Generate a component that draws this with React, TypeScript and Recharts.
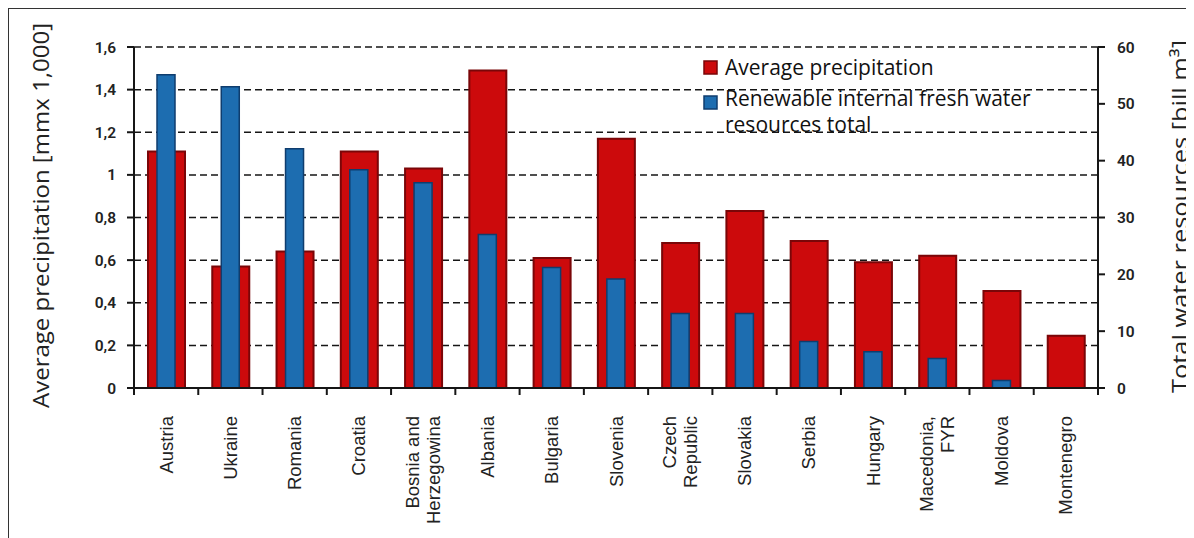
import React from 'react';
import { ComposedChart, Bar, XAxis, YAxis, CartesianGrid, Legend } from 'recharts';

// Countries (two-line names use "\n")
const countries = [
  'Austria',
  'Ukraine',
  'Romania',
  'Croatia',
  'Bosnia and\nHerzegowina',
  'Albania',
  'Bulgaria',
  'Slovenia',
  'Czech\nRepublic',
  'Slovakia',
  'Serbia',
  'Hungary',
  'Macedonia,\nFYR',
  'Moldova',
  'Montenegro',
];

// Average precipitation [mm x 1,000]
const precipitation = [1.11, 0.57, 0.64, 1.11, 1.03, 1.49, 0.61, 1.17, 0.68, 0.83, 0.69, 0.59, 0.62, 0.455, 0.245];

// Renewable internal fresh water resources total [bill m3]
const waterResources = [55.1, 53.0, 42.1, 38.4, 36.1, 27.0, 21.2, 19.2, 13.1, 13.1, 8.2, 6.4, 5.2, 1.3, 0];

const precipTicks = [0, 0.2, 0.4, 0.6, 0.8, 1, 1.2, 1.4, 1.6];
const waterTicks = [0, 10, 20, 30, 40, 50, 60];

const data = countries.map((country, i) => ({
  country,
  precipitation: precipitation[i],
  water: waterResources[i],
}));

const WIDTH = 1185;
const HEIGHT = 529;
const MARGIN_TOP = 38;
const LEFT_AXIS_W = 125;
const RIGHT_AXIS_W = 96;
const X_AXIS_H = 150;
const PLOT_BOTTOM = HEIGHT - X_AXIS_H;
const PLOT_W = WIDTH - LEFT_AXIS_W - RIGHT_AXIS_W;
const HALF_BAND = PLOT_W / countries.length / 2;

const RED = '#cc0a0c';
const RED_EDGE = '#7a0608';
const BLUE = '#1d6db0';
const BLUE_EDGE = '#0f3d6e';
const INK = '#161616';
const TITLE_FONT = "'Open Sans', sans-serif";

const fmtComma = (v: number) => String(v).replace('.', ',');

function CountryTick(props: any) {
  const { x, payload, index } = props;
  const lines = String(payload.value).split('\n');
  const gap = 21;
  const ty = PLOT_BOTTOM + 28;
  return (
    <g>
      <line x1={x - HALF_BAND} x2={x - HALF_BAND} y1={PLOT_BOTTOM} y2={PLOT_BOTTOM + 7} stroke={INK} strokeWidth={2} />
      {index === countries.length - 1 && (
        <line x1={x + HALF_BAND} x2={x + HALF_BAND} y1={PLOT_BOTTOM} y2={PLOT_BOTTOM + 7} stroke={INK} strokeWidth={2} />
      )}
      {lines.map((ln, i) => {
        const lx = x + (i - (lines.length - 1) / 2) * gap;
        return (
          <text
            key={i}
            x={lx}
            y={ty}
            transform={`rotate(-90 ${lx} ${ty})`}
            textAnchor="end"
            dominantBaseline="central"
            fontFamily="'Liberation Sans', Arial, sans-serif"
            fontSize={18.5}
            fill="#222"
          >
            {ln}
          </text>
        );
      })}
    </g>
  );
}

function AxisTitle({ cx, cy, length, text }: { cx: number; cy: number; length: number; text: string }) {
  return (
    <text
      x={cx}
      y={cy}
      transform={`rotate(-90 ${cx} ${cy})`}
      textAnchor="middle"
      dominantBaseline="central"
      fontFamily={TITLE_FONT}
      fontSize={22}
      fill="#222"
      textLength={length}
      lengthAdjust="spacingAndGlyphs"
    >
      {text}
    </text>
  );
}

function LegendBox() {
  const txt = { fontFamily: TITLE_FONT, fontSize: 21, fill: '#111' };
  return (
    <svg width={420} height={90} style={{ display: 'block', overflow: 'visible' }}>
      <rect x={1} y={1} width={13} height={13} fill={RED} stroke={RED_EDGE} strokeWidth={1.5} />
      <text x={22} y={15} {...txt}>
        Average precipitation
      </text>
      <rect x={1} y={36} width={13} height={13} fill={BLUE} stroke={BLUE_EDGE} strokeWidth={1.5} />
      <text x={22} y={46} {...txt}>
        Renewable internal fresh water
      </text>
      <text x={22} y={72} {...txt}>
        resources total
      </text>
    </svg>
  );
}

const tickStyle = { fill: '#222', fontSize: 15.5, fontWeight: 600, fontFamily: 'Roboto, sans-serif' };

export default function App() {
  return (
    <div
      style={{
        width: WIDTH,
        height: HEIGHT,
        borderTop: '1px solid #333',
        borderLeft: '1px solid #333',
        background: '#fff',
        position: 'relative',
        overflow: 'hidden',
      }}
    >
      <style>{'html,body{overflow:hidden}'}</style>
      <ComposedChart
        width={WIDTH}
        height={HEIGHT}
        data={data}
        margin={{ top: MARGIN_TOP, right: 0, bottom: 0, left: 0 }}
      >
        <CartesianGrid
          xAxisId="cat"
          yAxisId="precip"
          vertical={false}
          stroke={INK}
          strokeWidth={1.5}
          strokeDasharray="7 4"
        />
        <XAxis
          xAxisId="cat"
          dataKey="country"
          height={X_AXIS_H}
          interval={0}
          tickLine={false}
          tick={<CountryTick />}
          axisLine={{ stroke: INK, strokeWidth: 2 }}
        />
        <XAxis xAxisId="inner" dataKey="country" hide />
        <YAxis
          yAxisId="precip"
          orientation="left"
          width={LEFT_AXIS_W}
          domain={[0, 1.6]}
          ticks={precipTicks}
          tickFormatter={fmtComma}
          tickSize={7}
          tickMargin={11}
          tickLine={{ stroke: INK, strokeWidth: 2 }}
          axisLine={{ stroke: INK, strokeWidth: 2 }}
          tick={tickStyle}
          label={{
            content: () => <AxisTitle cx={31} cy={206.5} length={385} text="Average precipitation [mmx 1,000]" />,
          }}
        />
        <YAxis
          yAxisId="water"
          orientation="right"
          width={RIGHT_AXIS_W}
          domain={[0, 60]}
          ticks={waterTicks}
          tickSize={7}
          tickMargin={12}
          tickLine={{ stroke: INK, strokeWidth: 2 }}
          axisLine={{ stroke: INK, strokeWidth: 2 }}
          tick={tickStyle}
          label={{
            content: () => <AxisTitle cx={1170} cy={207.5} length={353} text="Total water resources [bill m³]" />,
          }}
        />
        <Bar
          xAxisId="cat"
          yAxisId="precip"
          dataKey="precipitation"
          name="Average precipitation"
          barSize={37}
          fill={RED}
          stroke={RED_EDGE}
          strokeWidth={2}
          isAnimationActive={false}
        />
        <Bar
          xAxisId="inner"
          yAxisId="water"
          dataKey="water"
          name="Renewable internal fresh water resources total"
          barSize={18}
          fill={BLUE}
          stroke={BLUE_EDGE}
          strokeWidth={1.5}
          isAnimationActive={false}
        />
        <Legend
          layout="vertical"
          align="center"
          verticalAlign="middle"
          wrapperStyle={{ position: 'absolute', left: 694, top: 51, width: 420, height: 90 }}
          content={() => <LegendBox />}
        />
      </ComposedChart>
    </div>
  );
}
